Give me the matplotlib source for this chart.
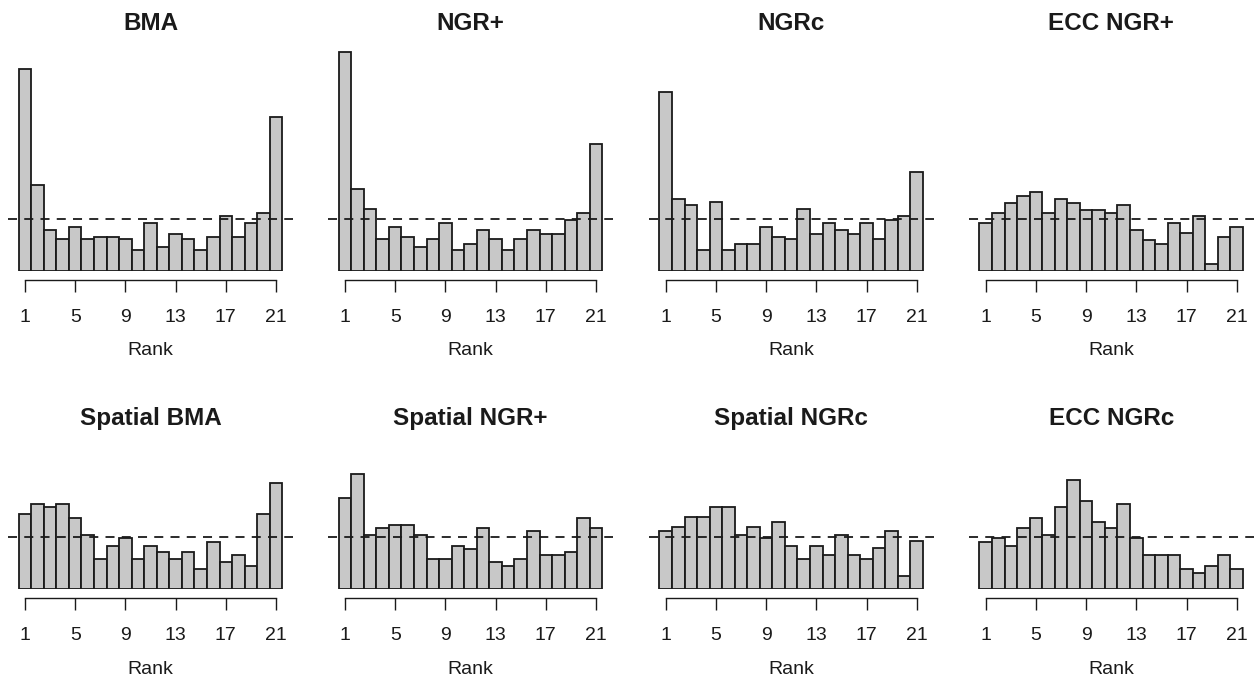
import matplotlib
matplotlib.use("Agg")
import matplotlib.pyplot as plt
import numpy as np

plt.rcParams['font.family'] = ['Liberation Sans', 'DejaVu Sans']

ranks = list(range(1, 22))
tick_ranks = [1, 5, 9, 13, 17, 21]

# relative frequencies (percent)
bma = [18.5, 7.9, 3.8, 2.9, 4.0, 2.9, 3.1, 3.1, 2.9, 1.9, 4.4, 2.2, 3.4, 2.9, 1.9, 3.1, 5.0, 3.1, 4.4, 5.3, 14.1]
ngr_plus = [20.1, 7.5, 5.7, 2.9, 4.0, 3.1, 2.2, 2.9, 4.4, 1.9, 2.5, 3.8, 2.9, 1.9, 2.9, 3.8, 3.4, 3.4, 4.7, 5.3, 11.6]
ngrc = [16.4, 6.6, 6.0, 1.9, 6.3, 1.9, 2.5, 2.5, 4.0, 3.1, 2.9, 5.7, 3.4, 4.4, 3.8, 3.4, 4.4, 2.9, 4.7, 5.0, 9.1]
ecc_ngr_plus = [4.4, 5.3, 6.2, 6.9, 7.2, 5.3, 6.6, 6.2, 5.6, 5.6, 5.3, 6.0, 3.8, 2.8, 2.5, 4.4, 3.5, 5.0, 0.6, 3.1, 4.0]
spatial_bma = [6.9, 7.8, 7.5, 7.8, 6.5, 5.0, 2.8, 4.0, 4.7, 2.8, 4.0, 3.4, 2.8, 3.4, 1.9, 4.3, 2.5, 3.1, 2.1, 6.9, 9.7]
spatial_ngr_plus = [8.4, 10.6, 5.0, 5.6, 5.9, 5.9, 5.0, 2.8, 2.8, 4.0, 3.7, 5.6, 2.5, 2.1, 2.8, 5.3, 3.1, 3.1, 3.4, 6.5, 5.6]
spatial_ngrc = [5.3, 5.7, 6.6, 6.6, 7.5, 7.5, 5.0, 5.7, 4.7, 6.2, 4.0, 2.8, 4.0, 3.1, 5.0, 3.1, 2.8, 3.8, 5.3, 1.2, 4.4]
ecc_ngrc = [4.3, 4.7, 4.0, 5.6, 6.5, 5.0, 7.5, 10.0, 8.1, 6.2, 5.6, 7.8, 4.7, 3.1, 3.1, 3.1, 1.9, 1.5, 2.1, 3.1, 1.9]

titles = ["BMA", "NGR+", "NGRc", "ECC NGR+",
          "Spatial BMA", "Spatial NGR+", "Spatial NGRc", "ECC NGRc"]
series = [bma, ngr_plus, ngrc, ecc_ngr_plus,
          spatial_bma, spatial_ngr_plus, spatial_ngrc, ecc_ngrc]
uniform = 100.0 / 21

W, H = 1256, 677
fig = plt.figure(figsize=(W / 100, H / 100), dpi=100)

px_per_rank = 12.55
x1_px = [25, 345, 665.7, 985.7]
baseline_px = [271, 589.3]
title_base_px = [29.5, 425]
ymax = 20.5
px_per_unit = 52 / uniform
ax_h = ymax * px_per_unit
ax_w = 22.68 * px_per_rank

for i, (title, vals) in enumerate(zip(titles, series)):
    r, c = divmod(i, 4)
    left = x1_px[c] - 1.34 * px_per_rank
    base = baseline_px[r]
    ax = fig.add_axes([left / W, (H - base) / H, ax_w / W, ax_h / H])
    ax.bar(ranks, vals, width=1.0, color='#c8c8c8', edgecolor='#1a1a1a',
           linewidth=1.3, zorder=2)
    ax.axhline(uniform, color='#1a1a1a', linestyle=(0, (5, 4)), linewidth=1.3, zorder=3)
    ax.set_xlim(-0.34, 22.34)
    ax.set_ylim(0, ymax)
    for s in ['left', 'top', 'right']:
        ax.spines[s].set_visible(False)
    ax.spines['bottom'].set_position(('outward', 6.5))
    ax.spines['bottom'].set_bounds(1, 21)
    ax.spines['bottom'].set_linewidth(1.0)
    ax.spines['bottom'].set_color('#1a1a1a')
    ax.set_yticks([])
    ax.set_xticks(tick_ranks)
    ax.set_xticklabels([str(t) for t in tick_ranks])
    ax.tick_params(axis='x', length=8.6, width=1.0, color='#1a1a1a',
                   labelsize=14, pad=12, labelcolor='#1a1a1a')
    ax.set_xlabel("Rank", fontsize=14, color='#1a1a1a', labelpad=12)
    fig.text((left + ax_w / 2) / W, 1 - title_base_px[r] / H, title,
             ha='center', va='baseline', fontsize=17.5, fontweight='bold',
             color='#1a1a1a')

fig.savefig("out.png", dpi=100)
